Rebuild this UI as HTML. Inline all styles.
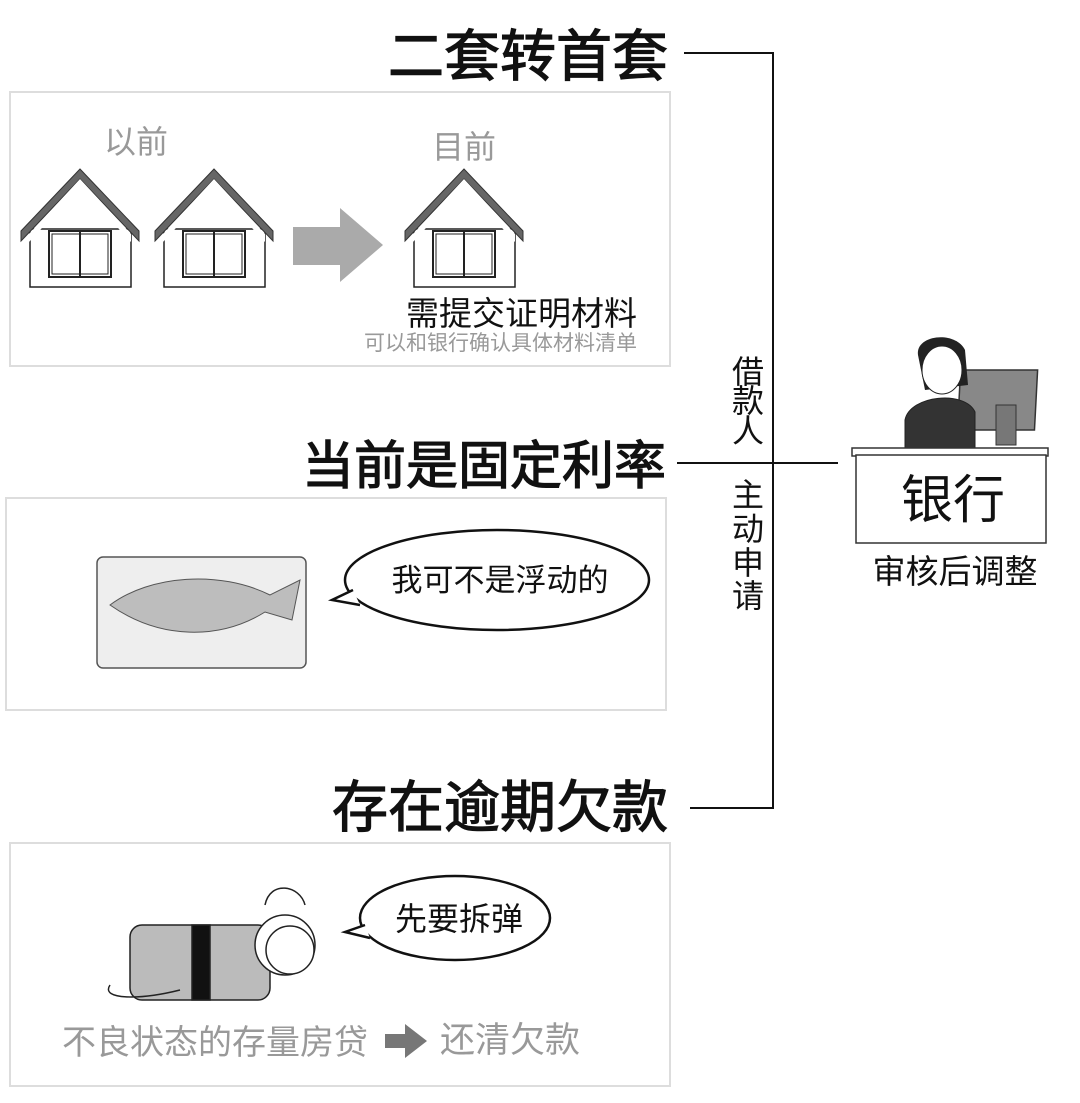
<!DOCTYPE html>
<html><head><meta charset="utf-8"><style>
html,body{margin:0;padding:0;background:#fff;}
svg{display:block;}
text{font-family:"Liberation Sans","Noto Sans CJK SC",sans-serif;}
</style></head><body>
<svg width="1080" height="1103" viewBox="0 0 1080 1103" xmlns="http://www.w3.org/2000/svg">
<defs>
<g id="house">
<rect x="9" y="50" width="101" height="58" fill="#fff" stroke="#222" stroke-width="1.5"/>
<polygon points="0,62 59,0 118,62 118,52 59,-10 0,52" fill="#666" stroke="#333"/>
<polygon points="8,63 59,8 110,63 110,55 59,0 8,55" fill="#fff"/>
<rect x="28" y="52" width="62" height="46" fill="#fff" stroke="#222" stroke-width="2"/>
<rect x="31" y="55" width="56" height="40" fill="none" stroke="#222" stroke-width="1"/>
<line x1="59" y1="52" x2="59" y2="98" stroke="#222" stroke-width="2"/>
</g>
</defs>
<g stroke="#111" stroke-width="2" fill="none">
<line x1="684" y1="53" x2="774" y2="53"/>
<line x1="773" y1="53" x2="773" y2="808"/>
<line x1="690" y1="808" x2="774" y2="808"/>
<line x1="677" y1="463" x2="838" y2="463"/>
</g>
<g fill="#111" stroke="#111" stroke-width="1.2" text-anchor="end">
<text x="668" y="76" font-size="56">二套转首套</text>
<text x="666" y="484" font-size="52">当前是固定利率</text>
<text x="668" y="827" font-size="56">存在逾期欠款</text>
</g>
<rect x="10" y="92" width="660" height="274" fill="#fff" stroke="#ddd" stroke-width="2"/>
<rect x="6" y="498" width="660" height="212" fill="#fff" stroke="#ddd" stroke-width="2"/>
<rect x="10" y="843" width="660" height="243" fill="#fff" stroke="#ddd" stroke-width="2"/>
<text x="136" y="153" font-size="32" fill="#999" text-anchor="middle">以前</text>
<text x="464" y="158" font-size="32" fill="#999" text-anchor="middle">目前</text>
<use href="#house" x="21" y="179"/>
<use href="#house" x="155" y="179"/>
<use href="#house" x="405" y="179"/>
<polygon points="293,227 340,227 340,208 383,245 340,282 340,265 293,265" fill="#aaa"/>
<text x="637" y="325" font-size="33" fill="#111" text-anchor="end">需提交证明材料</text>
<text x="637" y="350" font-size="21" fill="#999" text-anchor="end">可以和银行确认具体材料清单</text>
<rect x="97" y="557" width="209" height="111" rx="6" fill="#eee" stroke="#555" stroke-width="1.5"/>
<path d="M110,605 C150,575 220,570 270,595 L300,580 L292,620 L265,612 C220,640 160,640 110,605 Z" fill="#bdbdbd" stroke="#555"/>
<ellipse cx="497" cy="580" rx="152" ry="50" fill="#fff" stroke="#111" stroke-width="2.5"/>
<path d="M353,590 L332,600 L360,605" fill="#fff" stroke="#111" stroke-width="2.5"/>
<text x="500" y="591" font-size="31" fill="#111" text-anchor="middle">我可不是浮动的</text>
<g stroke="#222" stroke-width="1.5">
<rect x="130" y="925" width="140" height="75" rx="12" fill="#bbb"/>
<rect x="192" y="925" width="18" height="75" fill="#111"/>
<circle cx="285" cy="945" r="30" fill="#fff"/>
<circle cx="290" cy="950" r="24" fill="#fff"/>
<path d="M110,985 C100,1000 140,1000 180,990" fill="none"/>
<path d="M265,905 C270,880 300,885 305,905" fill="none"/>
</g>
<ellipse cx="455" cy="918" rx="95" ry="42" fill="#fff" stroke="#111" stroke-width="2.5"/>
<path d="M365,925 L345,932 L370,938" fill="#fff" stroke="#111" stroke-width="2.5"/>
<text x="459" y="930" font-size="32" fill="#111" text-anchor="middle">先要拆弹</text>
<text x="62" y="1054" font-size="34" fill="#999">不良状态的存量房贷</text>
<polygon points="385,1034 405,1034 405,1024 427,1041 405,1058 405,1048 385,1048" fill="#777"/>
<text x="440" y="1052" font-size="35" fill="#999">还清欠款</text>
<g font-size="32" fill="#111" text-anchor="middle">
<text x="748" y="383">借</text><text x="748" y="412">款</text><text x="748" y="442">人</text>
<text x="748" y="506">主</text><text x="748" y="540">动</text><text x="748" y="574">申</text><text x="748" y="607">请</text>
</g>
<rect x="980" y="370" width="77" height="60" fill="#888" stroke="#333" stroke-width="1.5" transform="skewX(-3)"/>
<rect x="996" y="405" width="20" height="40" fill="#777" stroke="#333"/>
<path d="M918,355 C915,335 955,330 965,350 L968,385 L925,390 Z" fill="#222"/>
<ellipse cx="942" cy="370" rx="20" ry="24" fill="#fff" stroke="#222"/>
<path d="M905,420 C910,395 965,390 975,412 L975,450 L905,450 Z" fill="#333" stroke="#222"/>
<rect x="852" y="448" width="196" height="8" fill="#fff" stroke="#333" stroke-width="1.5"/>
<rect x="856" y="455" width="190" height="88" fill="#fff" stroke="#333" stroke-width="1.5"/>
<text x="953" y="518" font-size="52" fill="#111" text-anchor="middle">银行</text>
<text x="955" y="583" font-size="33" fill="#111" text-anchor="middle">审核后调整</text>
</svg>
</body></html>
